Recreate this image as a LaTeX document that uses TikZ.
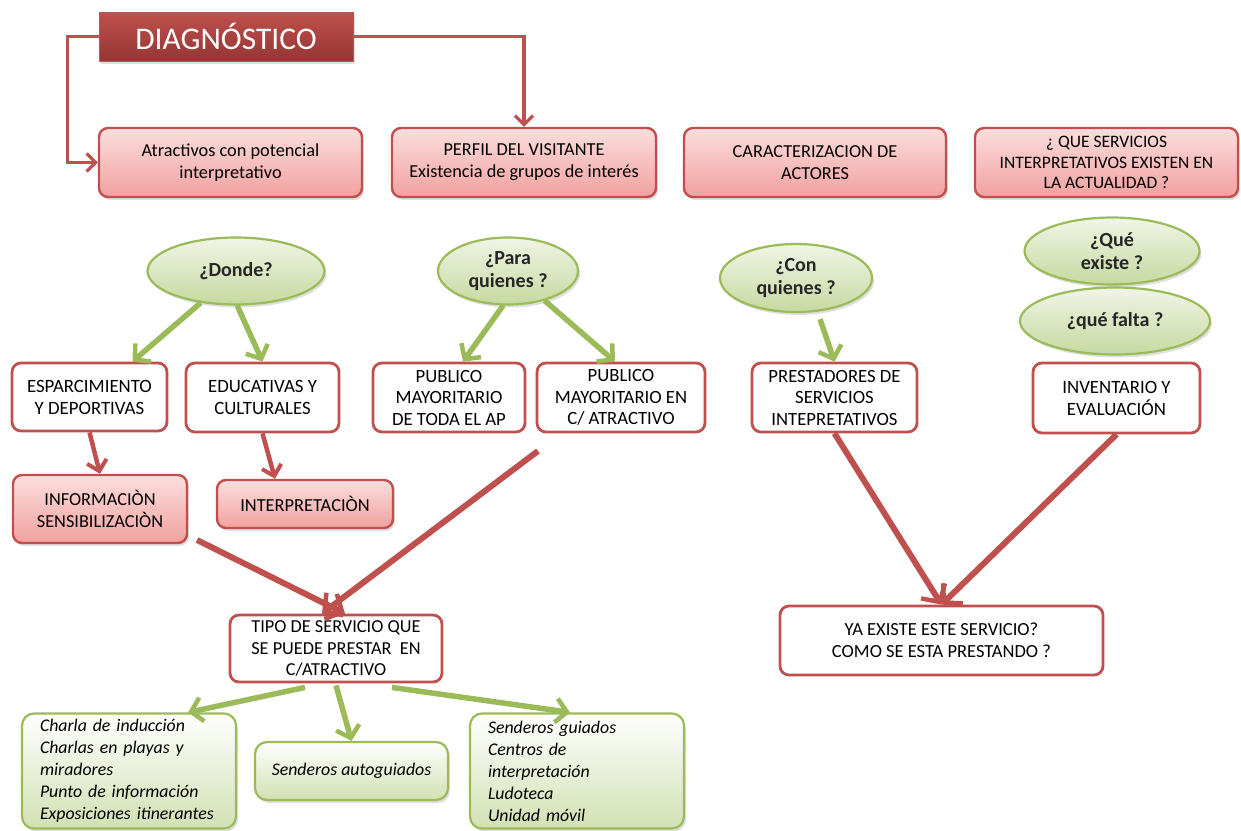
\documentclass[tikz,border=0pt]{standalone}
\usepackage{fontspec}
\setmainfont{Carlito}
\usetikzlibrary{arrows.meta,shadows,shapes.geometric}
\definecolor{redB}{HTML}{C0504D}
\definecolor{darkR}{HTML}{943634}
\definecolor{pinkT}{HTML}{FBDEDD}
\definecolor{pinkB}{HTML}{F2A19F}
\definecolor{grnB}{HTML}{9BBB59}
\definecolor{grnT}{HTML}{F0F5E6}
\definecolor{grnD}{HTML}{C6D9A0}
\tikzset{
  shad/.style={drop shadow={opacity=0.25,shadow xshift=2pt,shadow yshift=-3pt}},
  pbox/.style={rounded corners=9pt, draw=redB, line width=2.4pt, top color=pinkT, bottom color=pinkB, align=center, inner sep=0pt, shad},
  wbox/.style={rounded corners=9pt, draw=redB, line width=2.8pt, fill=white, align=center, inner sep=0pt},
  gell/.style={ellipse, draw=grnB, line width=2.2pt, top color=grnT, bottom color=grnD, align=center, inner sep=0pt, text=black!85, font=\fontsize{20}{23}\selectfont\bfseries, shad},
  gbox/.style={rounded corners=12pt, draw=grnB, line width=2.2pt, top color=white, bottom color=grnD!80, inner sep=0pt, font=\fontsize{17.8}{22}\selectfont\itshape, shad},
  rline/.style={draw=redB, line width=3.2pt, -{Straight Barb[length=9pt,width=18pt,line width=3.2pt]}},
  rarr/.style={draw=redB, line width=4.5pt, -{Straight Barb[length=10pt,width=20pt,line width=4pt]}},
  rbig/.style={draw=redB, line width=6pt, -{Straight Barb[length=13pt,width=28pt,line width=4.5pt]}},
  garr/.style={draw=grnB, line width=5.5pt, -{Straight Barb[length=11pt,width=24pt,line width=4.5pt]}},
}
\begin{document}
\begin{tikzpicture}[x=1pt,y=-1pt,font=\fontsize{18.7}{21.5}\selectfont]
\useasboundingbox (0,0) rectangle (1241,830);
% title
\node[draw=darkR!80, line width=1pt, top color=redB, bottom color=darkR, minimum width=254pt, minimum height=49pt, inner sep=0pt, text=white, font=\fontsize{31.5}{34}\selectfont, shad] (diag) at (226,36.5) {DIAGNÓSTICO};
% top boxes
\node[pbox, minimum width=263pt, minimum height=69pt, font=\fontsize{18.3}{22}\selectfont] (atr) at (230.5,162.5) {Atractivos con potencial\\interpretativo};
\node[pbox, minimum width=264pt, minimum height=69pt, font=\fontsize{18.3}{22}\selectfont] (per) at (524,162.5) {PERFIL DEL VISITANTE\\Existencia de grupos de interés};
\node[pbox, minimum width=262pt, minimum height=69pt, font=\fontsize{18.3}{22}\selectfont] (car) at (815,162.5) {CARACTERIZACION DE\\ACTORES};
\node[pbox, minimum width=263pt, minimum height=69pt, font=\fontsize{17.5}{20.5}\selectfont] (que) at (1106.5,162.5) {¿ QUE SERVICIOS\\INTERPRETATIVOS EXISTEN EN\\LA ACTUALIDAD ?};
% ellipses
\node[gell, minimum width=177pt, minimum height=67pt] (don) at (236,271) {¿Donde?};
\node[gell, minimum width=140pt, minimum height=67pt] (par) at (508,271) {¿Para\\quienes ?};
\node[gell, minimum width=152pt, minimum height=68pt] (con) at (796,278) {¿Con\\quienes ?};
\node[gell, minimum width=175pt, minimum height=67pt] (qex) at (1112,251) {¿Qué\\existe ?};
\node[gell, minimum width=190pt, minimum height=67pt] (qfa) at (1115,321) {¿qué falta ?};
% middle white boxes
\node[wbox, minimum width=155pt, minimum height=68pt, font=\fontsize{18.8}{22}\selectfont] (esp) at (89.5,397) {ESPARCIMIENTO\\Y DEPORTIVAS};
\node[wbox, minimum width=153pt, minimum height=69pt, font=\fontsize{18.8}{22}\selectfont] (edu) at (262.5,397.5) {EDUCATIVAS Y\\CULTURALES};
\node[wbox, minimum width=152pt, minimum height=69pt] (pu1) at (449,397.5) {PUBLICO\\MAYORITARIO\\DE TODA EL AP};
\node[wbox, minimum width=168pt, minimum height=69pt] (pu2) at (621,397.5) {PUBLICO\\MAYORITARIO EN\\C/ ATRACTIVO};
\node[wbox, minimum width=165pt, minimum height=69pt] (pre) at (834.5,397.5) {PRESTADORES DE\\SERVICIOS\\INTEPRETATIVOS};
\node[wbox, minimum width=167pt, minimum height=70pt, font=\fontsize{18.8}{22}\selectfont] (inv) at (1116.5,398) {INVENTARIO Y\\EVALUACIÓN};
% pink lower boxes
\node[pbox, minimum width=174pt, minimum height=68pt, font=\fontsize{18.3}{22}\selectfont] (inf) at (100,509) {INFORMACIÒN\\SENSIBILIZACIÒN};
\node[pbox, minimum width=176pt, minimum height=48pt, font=\fontsize{18.4}{22}\selectfont] (int) at (305,504) {INTERPRETACIÒN};
% tipo / ya existe
\node[wbox, minimum width=212pt, minimum height=67pt, font=\fontsize{18.3}{21.5}\selectfont] (tip) at (336,648.5) {TIPO DE SERVICIO QUE\\SE PUEDE PRESTAR~~EN\\C/ATRACTIVO};
\node[wbox, minimum width=323pt, minimum height=69pt, font=\fontsize{18.5}{22}\selectfont] (ya) at (941.5,640.5) {YA EXISTE ESTE SERVICIO?\\COMO SE ESTA PRESTANDO ?};
% green boxes
\node[gbox, minimum width=214pt, minimum height=115pt, text width=178pt, align=left] (gb1) at (129,771) {Charla de inducción\\Charlas en playas y\\miradores\\Punto de información\\Exposiciones itinerantes};
\node[gbox, minimum width=193pt, minimum height=58pt, align=center] (gb2) at (351.5,771) {Senderos autoguiados};
\node[gbox, minimum width=214pt, minimum height=115pt, text width=178pt, align=left] (gb3) at (577,771) {Senderos guiados\\Centros de\\interpretación\\Ludoteca\\Unidad móvil};
% title connectors
\draw[rline] (diag.west) -- ++(-31,0) |- (atr.west);
\draw[rline] (diag.east) -| (per.north);
% green arrows
\draw[garr] (don.222) -- ([xshift=43pt]esp.north);
\draw[garr] (don.272) -- (edu.north);
\draw[garr] (par.262) -- ([xshift=14pt]pu1.north);
\draw[garr] (par.321) -- ([xshift=-6pt]pu2.north);
\draw[garr] ([xshift=24pt,yshift=-6pt]con.south) -- (pre.north);
\draw[garr] ([xshift=-31pt,yshift=-4pt]tip.south) -- ([xshift=59pt]gb1.north);
\draw[garr] ([yshift=-2pt]tip.south) -- (gb2.north);
\draw[garr] ([xshift=56pt,yshift=-4pt]tip.south) -- ([xshift=-7pt]gb3.north);
% red arrows
\draw[rarr] (esp.south) -- (inf.north);
\draw[rarr] (edu.south) -- ([xshift=-30pt]int.north);
\coordinate (c1) at (197,540);
\coordinate (c2) at (538,451);
\draw[rbig] (c1) -- ([xshift=9pt]tip.north);
\draw[rbig] (c2) -- ([xshift=-14pt]tip.north);
\draw[rbig] (pre.south) -- (ya.north);
\draw[rbig] (inv.south) -- (ya.north);
\end{tikzpicture}
\end{document}
